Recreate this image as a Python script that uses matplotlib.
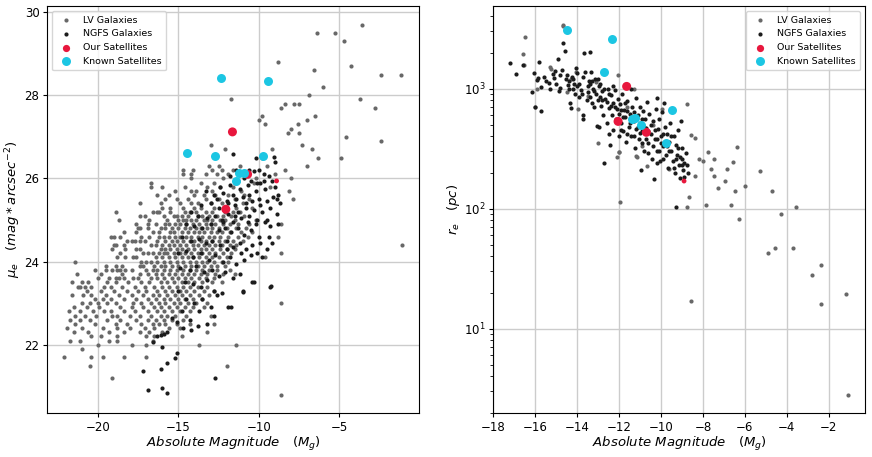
import numpy as np
import matplotlib
matplotlib.use('Agg')
from matplotlib import pyplot as plt

# LV galaxies (left panel): rows of mu_e with the magnitudes read on that row
lv_rows = [
    (29.7, [-3.6]), (29.5, [-6.4, -5.3]), (29.3, [-4.7]),
    (28.8, [-8.8]), (28.7, [-4.3]), (28.6, [-6.6]),
    (28.5, [-2.4, -1.2]), (28.2, [-6.0]), (28.0, [-6.9]),
    (27.9, [-11.7, -3.7]), (27.8, [-8.4, -7.8, -7.5]), (27.7, [-8.6, -2.8]),
    (27.5, [-9.8, -6.5]), (27.4, [-10.0, -7.0]), (27.3, [-9.6, -7.6]),
    (27.2, [-8.0]), (27.1, [-8.2, -7.5]), (27.0, [-4.6]),
    (26.9, [-2.4]), (26.8, [-13.0, -7.3]), (26.7, [-12.1, -9.2, -6.7]),
    (26.5, [-9.8, -6.3, -4.9]), (26.3, [-13.1, -12.5, -11.2, -9.5, -7.0]),
    (26.2, [-14.7, -14.1, -12.9, -12.3, -11.6, -8.4]),
    (26.1, [-14.7, -14.2, -13.3, -12.6, -11.9, -10.8, -9.0]),
    (26.0, [-14.2, -12.2, -10.2, -8.0]),
    (25.9, [-16.7, -13.6, -12.8, -11.5, -10.3]),
    (25.8, [-16.7, -16.0, -14.6, -13.2, -12.4, -11.6, -9.3]),
    (25.7, [-15.2, -14.2, -13.9, -12.9, -11.1, -8.1]),
    (25.6, [-16.3, -15.6, -14.0, -13.4, -12.7, -11.9, -10.9]),
    (25.5, [-15.8, -15.1, -14.4, -13.3, -12.5, -11.5, -10.6, -7.9]),
    (25.4, [-17.4, -16.1, -14.9, -14.2, -13.8, -13.0, -12.3, -11.0]),
    (25.3, [-16.0, -15.5, -14.7, -14.0, -13.6, -12.8, -12.0, -11.4, -10.4]),
    (25.2, [-18.9, -16.6, -16.3, -16.2, -15.5, -14.6, -14.3, -13.9, -13.3,
            -12.9, -12.1, -11.6, -11.2]),
    (25.1, [-17.4, -17.1, -15.9, -15.3, -15.1, -14.8, -14.4, -13.8, -13.5,
            -13.1, -12.6, -12.2, -11.7, -10.9]),
    (25.0, [-18.7, -16.8, -15.7, -15.0, -14.7, -14.5, -14.2, -13.9, -13.4,
            -13.2, -12.9, -12.4, -12.1, -11.5, -10.2]),
    (24.9, [-17.6, -16.9, -16.4, -15.8, -15.6, -15.2, -14.9, -14.5, -14.1,
            -13.7, -13.3, -13.0, -12.7, -12.2, -11.8, -11.3, -10.6, -8.6]),
    (24.8, [-17.5, -17.4, -16.9, -16.1, -15.8, -15.4, -15.0, -14.6, -14.3,
            -13.9, -13.6, -13.2, -12.9, -12.5, -12.0, -11.4, -10.8]),
    (24.7, [-18.4, -17.6, -16.6, -16.2, -15.5, -15.3, -14.8, -14.4, -14.0,
            -13.7, -13.4, -13.0, -12.6, -12.3, -11.8, -11.1, -10.4]),
    (24.6, [-19.2, -19.0, -18.6, -17.3, -16.8, -16.2, -15.9, -15.6, -15.2,
            -14.9, -14.5, -14.2, -13.8, -13.5, -13.1, -12.8, -12.4, -11.9,
            -11.3, -10.7, -8.8]),
    (24.5, [-18.2, -17.9, -17.7, -17.4, -17.1, -16.3, -15.8, -15.4, -15.1,
            -14.7, -14.3, -14.0, -13.6, -13.3, -12.9, -12.5, -12.1, -11.6,
            -11.0]),
    (24.4, [-19.0, -18.9, -18.4, -16.7, -16.4, -16.0, -15.6, -15.3, -14.9,
            -14.5, -14.1, -13.8, -13.4, -13.1, -12.7, -12.3, -11.8, -11.4,
            -1.1]),
    (24.3, [-19.1, -18.3, -17.6, -17.4, -16.1, -15.8, -15.5, -15.1, -14.8,
            -14.4, -14.0, -13.6, -13.3, -12.9, -12.4, -12.0, -11.5]),
    (24.2, [-18.6, -17.2, -16.9, -16.6, -16.2, -15.9, -15.7, -15.3, -14.9,
            -14.6, -14.2, -13.8, -13.5, -13.1, -12.7, -12.2, -11.7, -8.6]),
    (24.1, [-18.8, -18.3, -17.8, -17.6, -16.4, -16.0, -15.6, -15.2, -14.8,
            -14.4, -14.1, -13.7, -13.3, -12.9, -12.5, -12.0, -9.6]),
    (24.0, [-21.4, -17.3, -17.0, -16.7, -16.3, -15.9, -15.5, -15.1, -14.7,
            -14.3, -13.9, -13.5, -13.2, -12.8, -12.3, -11.9]),
    (23.9, [-19.5, -18.9, -18.5, -17.4, -17.2, -16.5, -16.1, -15.8, -15.4,
            -15.0, -14.6, -14.2, -13.8, -13.4, -13.0, -12.6, -12.1]),
    (23.8, [-20.2, -19.5, -19.1, -18.8, -18.6, -18.3, -17.9, -17.0, -16.6,
            -16.3, -15.9, -15.5, -15.1, -14.7, -14.3, -13.9, -13.5, -13.1,
            -12.6, -11.8]),
    (23.7, [-21.3, -19.8, -18.5, -17.4, -16.9, -16.4, -16.0, -15.6, -15.2,
            -14.8, -14.4, -14.0, -13.6, -13.2, -12.7, -12.2, -11.5]),
    (23.6, [-20.0, -19.3, -18.9, -18.7, -18.4, -17.8, -17.5, -16.7, -16.3,
            -15.9, -15.4, -15.0, -14.6, -14.2, -13.7, -13.3, -12.8]),
    (23.5, [-21.6, -21.0, -20.6, -19.4, -18.9, -18.1, -17.3, -16.8, -16.1,
            -15.7, -15.3, -14.8, -14.4, -14.0, -13.5, -12.9, -12.3]),
    (23.4, [-21.2, -21.1, -20.8, -20.4, -19.6, -19.2, -18.5, -17.7, -17.1,
            -16.5, -16.0, -15.6, -15.1, -14.7, -14.3, -13.8, -13.2]),
    (23.3, [-20.7, -19.8, -19.0, -18.2, -17.5, -17.0, -16.3, -15.8, -15.4,
            -14.9, -14.5, -14.0, -13.4, -12.8]),
    (23.2, [-21.6, -20.9, -20.4, -19.5, -18.7, -17.9, -17.2, -16.6, -16.2,
            -15.7, -15.2, -14.8, -14.3, -13.7, -13.1]),
    (23.1, [-20.2, -19.7, -19.2, -18.4, -17.6, -16.9, -16.4, -15.9, -15.5,
            -15.0, -14.6, -14.1, -13.5]),
    (23.0, [-21.0, -20.5, -20.0, -19.4, -18.9, -17.8, -17.3, -16.7, -16.2,
            -15.8, -15.3, -14.9, -14.4, -13.9, -13.2, -8.6]),
    (22.9, [-21.5, -20.7, -19.9, -18.6, -17.9, -17.2, -16.5, -16.1, -15.6,
            -15.1, -14.6, -14.1, -13.4]),
    (22.8, [-21.8, -21.1, -20.3, -19.6, -19.2, -18.4, -17.7, -16.9, -16.3,
            -15.9, -15.4, -14.9, -14.3]),
    (22.7, [-21.4, -20.8, -20.1, -19.1, -18.8, -18.0, -17.4, -16.7, -16.1,
            -15.7, -15.2, -14.5, -13.0]),
    (22.6, [-21.7, -21.1, -20.5, -19.4, -18.6, -17.6, -16.9, -16.4, -15.9,
            -15.4, -14.7]),
    (22.5, [-21.4, -20.2, -18.9, -18.2, -17.3, -16.6, -16.2, -15.8, -15.1,
            -14.3, -12.8]),
    (22.4, [-21.9, -21.0, -19.7, -18.8, -18.0, -17.1, -16.5, -15.6, -14.9]),
    (22.3, [-21.5, -20.6, -19.3, -18.4, -17.4, -16.8, -16.0, -13.2]),
    (22.2, [-20.4, -19.8, -18.8, -17.0, -16.5, -14.8]),
    (22.1, [-21.7, -21.1, -19.3, -18.8, -16.6]),
    (22.0, [-20.0, -17.9, -17.0, -13.7, -11.4]),
    (21.9, [-21.0]),
    (21.7, [-22.1, -20.4, -19.7, -18.4, -17.0]),
    (21.5, [-20.5, -12.0]),
    (21.2, [-19.1]),
    (20.8, [-8.6]),
]
lv_mag = [m for mu, mags in lv_rows for m in mags]
lv_mu = [mu for mu, mags in lv_rows for m in mags]

# NGFS galaxies (left panel)
ngfs_mag = [
    -11.6, -10.2, -9.05, -9.0, -11.4, -11.0, -10.6, -10.3, -10.0, -9.7, -9.4,
    -9.2, -10.9, -10.5, -9.9, -11.8, -12.4, -11.2, -10.2, -9.6, -9.0, -8.8,
    -8.9, -9.1, -8.7,
    -13.3, -12.8, -12.2, -11.6, -11.0, -10.6, -10.0, -9.5, -13.6, -13.0, -12.5,
    -12.0, -11.5, -11.3, -10.8, -10.3, -9.8, -9.3, -8.9, -14.2, -13.8, -13.2,
    -12.7, -12.3, -11.9, -11.6, -11.1, -10.7, -10.1, -9.6, -9.3, -8.8, -14.5,
    -14.0, -13.5, -13.0, -12.5, -12.1, -11.7, -11.3, -10.9, -10.5, -10.0, -9.4,
    -9.2,
    -14.8, -14.2, -13.7, -13.3, -12.9, -12.4, -12.0, -11.6, -11.2, -10.8,
    -10.4, -10.1, -9.8, -9.5, -15.0, -14.5, -14.1, -13.6, -13.1, -12.7, -12.2,
    -11.8, -11.4, -10.9, -14.9, -14.3, -13.9, -13.4, -12.9, -12.5, -12.1,
    -11.6, -11.2, -10.4, -9.3, -11.0, -14.6, -14.1, -13.6, -13.2, -12.8,
    -12.3, -11.9, -11.7,
    -15.0, -14.5, -14.0, -13.5, -13.0, -12.6, -14.8, -14.3, -13.7, -13.2,
    -12.8, -15.4, -15.1, -14.7, -14.2, -13.8, -16.6, -16.3, -16.1, -15.9,
    -15.7, -16.0, -15.1, -15.2, -15.7, -16.1, -17.2, -12.7, -16.9, -16.0,
    -15.7, -10.3, -11.0, -9.25,
    -11.8, -11.3, -10.7, -10.1, -9.7, -12.6, -11.9, -11.4, -10.8, -10.4,
    -9.9, -12.2, -11.5, -10.6, -10.2, -9.5, -12.0, -11.1, -10.5, -9.9,
]
ngfs_mu = [
    26.58, 26.5, 26.51, 26.4, 26.2, 26.15, 26.2, 26.18, 26.2, 26.1, 26.05,
    25.95, 26.0, 25.95, 25.9, 25.85, 25.8, 25.75, 25.7, 25.75, 25.8, 25.6,
    25.5, 25.55, 25.4,
    25.7, 25.6, 25.65, 25.6, 25.55, 25.6, 25.5, 25.45, 25.35, 25.4, 25.3,
    25.45, 25.35, 25.2, 25.3, 25.25, 25.2, 25.3, 25.15, 25.2, 25.1, 25.05,
    25.1, 25.0, 25.15, 24.95, 25.05, 24.95, 25.0, 24.95, 24.85, 24.9, 24.9,
    24.85, 24.8, 24.9, 24.75, 24.8, 24.7, 24.8, 24.65, 24.75, 24.6, 24.6,
    24.45,
    24.6, 24.5, 24.55, 24.45, 24.5, 24.4, 24.5, 24.35, 24.45, 24.3,
    24.4, 24.2, 24.1, 24.3, 24.2, 24.25, 24.1, 24.2, 24.05, 24.15, 24.0,
    24.1, 23.95, 24.05, 23.85, 23.8, 23.9, 23.75, 23.8, 23.65, 23.75,
    23.6, 23.7, 23.5, 23.4, 23.3, 23.5, 23.45, 23.4, 23.55, 23.3,
    23.25, 22.9, 22.9,
    23.3, 23.1, 23.0, 23.1, 22.9, 23.2, 22.8, 22.6, 22.8, 22.5,
    22.7, 22.64, 22.55, 22.4, 22.35, 22.45, 22.06, 22.2, 22.24, 22.27,
    22.3, 21.94, 21.8, 21.69, 21.56, 21.41, 21.37, 21.21, 20.91, 20.95,
    20.83, 23.52, 23.28, 23.42,
    26.05, 25.95, 25.85, 25.9, 25.95, 25.5, 25.4, 25.5, 25.4, 25.45,
    25.35, 24.95, 25.1, 25.1, 24.9, 25.0, 24.3, 24.2, 24.15, 24.45,
]

# LV galaxies (right panel)
lv_mag_r = [
    -16.48, -16.57, -16.55, -16.0, -15.28, -15.25, -14.68, -14.68, -14.47,
    -14.06, -13.96, -13.08, -12.99, -12.07, -11.99, -12.1, -12.02, -11.98,
    -11.31, -11.19, -11.16, -10.66, -9.96, -9.6, -8.77, -8.57, -8.36, -8.17,
    -7.98, -7.77, -7.47, -6.37, -6.56, -6.86, -7.6, -7.46, -6.96, -8.36,
    -7.28, -6.47, -5.97, -5.27, -8.68, -7.87, -8.76, -6.67, -6.26, -4.69,
    -4.29, -3.57, -4.88, -4.58, -3.69, -2.78, -2.37, -2.37, -1.19, -1.07,
    -8.57, -15.9, -14.3, -13.5, -11.6, -10.9, -10.4,
]
lv_re = [
    2712, 1950, 1585, 708, 1520, 1460, 3300, 3420, 945,
    1390, 680, 1137, 355, 1300, 297, 270, 295, 113,
    987, 274, 270, 229, 673, 215, 740, 408, 385, 257,
    251, 296, 257, 324, 247, 214, 214, 187, 170, 187,
    149, 141, 155, 206, 124, 107, 104, 107, 82, 140,
    90, 103, 42.8, 46.7, 46.7, 28.2, 33.9, 16.2, 19.4, 2.82,
    17.0, 1000, 1200, 870, 700, 330, 500,
]

# NGFS galaxies (right panel)
ngfs_mag_r = [
    -17.21, -16.92, -16.57, -16.16, -16.06, -16.02, -15.92, -15.88,
    -15.81, -15.73, -15.71, -15.6, -15.5, -15.36, -15.3, -15.17, -15.1,
    -15.05, -15.0,
    -14.93, -14.85, -14.8, -14.73, -14.66, -14.6, -14.55, -14.5, -14.45,
    -14.4, -14.34, -14.29, -14.25, -14.2, -14.15, -14.1, -14.06, -14.01,
    -14.0,
    -13.9, -13.83, -13.78, -13.72, -13.7, -13.66, -13.61, -13.55, -13.5,
    -13.45, -13.4, -13.37, -13.32, -13.3, -13.25, -13.2, -13.15, -13.1,
    -13.05, -13.0, -12.95,
    -12.94, -12.9, -12.85, -12.8, -12.75, -12.7, -12.65, -12.6, -12.55,
    -12.5, -12.48, -12.45, -12.4, -12.35, -12.3, -12.28, -12.2, -12.15,
    -12.1, -12.05, -12.0, -12.0,
    -11.95, -11.9, -11.85, -11.8, -11.75, -11.7, -11.68, -11.6, -11.55,
    -11.5, -11.45, -11.42, -11.38, -11.3, -11.25, -11.2, -11.18, -11.1,
    -11.05, -11.0, -11.0,
    -10.96, -10.92, -10.88, -10.8, -10.75, -10.7, -10.65, -10.6, -10.55,
    -10.5, -10.45, -10.4, -10.35, -10.3, -10.25, -10.21, -10.2, -10.15,
    -10.1, -10.05, -10.0,
    -9.95, -9.9, -9.84, -9.8, -9.75, -9.7, -9.65, -9.6, -9.55, -9.5, -9.45,
    -9.4, -9.35, -9.3, -9.28, -9.25, -9.2, -9.15, -9.1, -9.04, -9.0, -8.98,
    -8.95, -8.92, -8.88, -8.82, -8.75, -8.7,
    -13.4, -13.2, -13.0, -12.9, -12.7, -12.6, -12.5, -12.3, -12.2, -12.0,
    -11.9, -11.8, -11.7, -11.6, -11.5, -11.4, -11.3, -11.2, -11.1, -11.0,
    -10.9, -10.8, -10.7, -10.6, -10.5, -10.4, -10.3, -10.2, -10.1, -10.0,
    -9.9, -9.8, -9.6, -9.5, -9.3, -9.2, -9.1, -9.0, -14.8, -14.4, -14.2,
    -13.9, -13.7, -13.5, -13.3, -12.8, -12.4, -11.9, -11.6, -11.3, -10.9,
    -10.6, -10.2, -9.9, -9.7, -9.4,
]
ngfs_re = [
    1640, 1330, 1590, 930, 1340, 700, 1180, 1230,
    1680, 656, 1040, 1250, 1150, 1108, 1000, 1320, 1230,
    1400, 1100,
    1756, 950, 1010, 1431, 2388, 2060, 1200, 1300, 1080,
    1150, 755, 685, 1250, 1000, 1100, 900, 1500, 1340,
    1050,
    860, 975, 900, 600, 560, 1968, 1370, 800, 930,
    1150, 850, 2010, 1370, 760, 1000, 700, 1200, 900,
    490, 800, 1050,
    480, 1100, 720, 950, 600, 241, 820, 520, 1000,
    690, 420, 340, 880, 600, 760, 450, 970, 560,
    680, 820, 400, 620,
    750, 520, 900, 440, 660, 580, 360, 790, 480,
    620, 1000, 400, 700, 540, 320, 460, 840, 600,
    380, 520, 700,
    210, 440, 650, 300, 560, 470, 780, 350, 620,
    420, 260, 540, 177, 380, 680, 830, 300, 460,
    560, 250, 400,
    640, 330, 755, 480, 280, 420, 220, 360, 520, 300, 250,
    400, 200, 340, 104, 280, 450, 230, 180, 537, 320, 260,
    210, 185, 240, 290, 230, 200,
    1100, 950, 1200, 860, 1000, 780, 900, 1050, 700, 540,
    660, 580, 760, 420, 520, 580, 640, 560, 480, 430,
    560, 480, 380, 440, 500, 330, 450, 380, 300, 350,
    420, 350, 300, 400, 260, 320, 270, 230, 1300, 1000, 1200,
    1100, 1250, 1050, 1150, 800, 720, 450, 650, 400, 350,
    290, 240, 260, 330, 220,
]

# satellites
our_mag = [-11.64, -12.05, -10.70, -8.90]
our_mu = [27.12, 25.26, 26.10, 25.94]
our_re = [1045, 534, 433, 170]
our_size = [42, 42, 42, 12]

known_mag = [-14.48, -12.34, -12.72, -9.46, -11.39, -11.22, -10.94, -9.74]
known_mu = [26.61, 28.42, 26.53, 28.34, 25.94, 26.13, 26.13, 26.55]
known_re = [3060, 2595, 1377, 668, 555, 570, 501, 350]

lv_color = '#686868'
ngfs_color = '#1c1c1c'
our_color = '#e8173d'
known_color = '#1cc6e3'

plt.rcParams['font.family'] = 'DejaVu Sans'
fig = plt.figure(figsize=(8.72, 4.57), dpi=100)
ax1 = fig.add_axes([0.054, 0.096, 0.4266, 0.8906])
ax2 = fig.add_axes([0.5654, 0.096, 0.4266, 0.8906])

xlab = r'$Absolute\ Magnitude\quad(M_g)$'

ax1.scatter(lv_mag, lv_mu, s=9, color=lv_color, lw=0, label='LV Galaxies')
ax1.scatter(ngfs_mag, ngfs_mu, s=9, color=ngfs_color, lw=0, label='NGFS Galaxies')
ax1.scatter(our_mag, our_mu, s=our_size, color=our_color, lw=0, label='Our Satellites')
ax1.scatter(known_mag, known_mu, s=42, color=known_color, lw=0, label='Known Satellites')
ax1.set_xlabel(xlab, fontsize=9.5, labelpad=1)
ax1.set_ylabel(r'$\mu_e\quad(mag*arcsec^{-2})$', fontsize=9.5, labelpad=1)
ax1.set_xticks([-20, -15, -10, -5])
ax1.set_yticks([22, 24, 26, 28, 30])
ax1.legend(loc='upper left', fontsize=6.8, borderpad=0.5, handletextpad=0.8)

ax2.scatter(lv_mag_r, lv_re, s=9, color=lv_color, lw=0, label='LV Galaxies')
ax2.scatter(ngfs_mag_r, ngfs_re, s=9, color=ngfs_color, lw=0, label='NGFS Galaxies')
ax2.scatter(our_mag, our_re, s=our_size, color=our_color, lw=0, label='Our Satellites')
ax2.scatter(known_mag, known_re, s=42, color=known_color, lw=0, label='Known Satellites')
ax2.set_yscale('log')
ax2.set_xlabel(xlab, fontsize=9.5, labelpad=1)
ax2.set_ylabel(r'$r_e\quad(pc)$', fontsize=9.5, labelpad=1)
ax2.set_xticks(np.arange(-18, -1, 2))
ax2.legend(loc='upper right', fontsize=6.8, borderpad=0.5, handletextpad=0.8)

for ax in (ax1, ax2):
    ax.grid(True, color='#cccccc', lw=1)
    ax.set_axisbelow(True)
    ax.tick_params(labelsize=8.5, length=3, pad=2.5)

plt.savefig('out.png', dpi=100)
